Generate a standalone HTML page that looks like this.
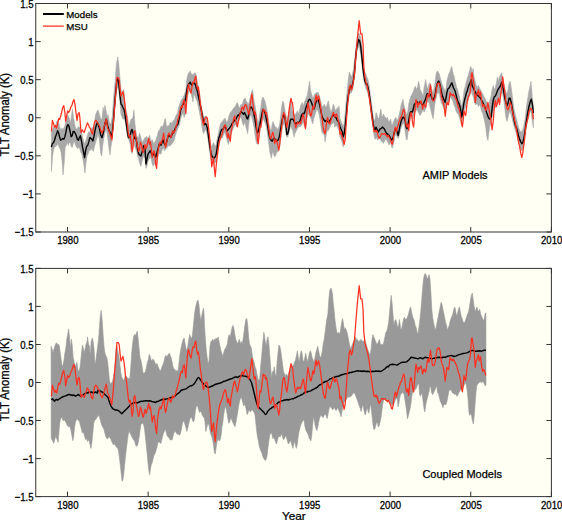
<!DOCTYPE html>
<html><head><meta charset="utf-8"><style>
html,body{margin:0;padding:0;background:#fff;}
svg{display:block;}
.t{font-family:"Liberation Sans",sans-serif;font-size:9.6px;fill:#000;stroke:#000;stroke-width:0.25px;}
.g{font-family:"Liberation Sans",sans-serif;font-size:9.7px;fill:#000;stroke:#000;stroke-width:0.25px;}
.l{font-family:"Liberation Sans",sans-serif;font-size:11px;fill:#000;stroke:#000;stroke-width:0.25px;}
.yl{font-family:"Liberation Sans",sans-serif;font-size:11.3px;fill:#000;stroke:#000;stroke-width:0.25px;}
.y{font-family:"Liberation Sans",sans-serif;font-size:11.8px;fill:#000;stroke:#000;stroke-width:0.25px;}
</style></head><body>
<svg width="562" height="520" viewBox="0 0 562 520">
<rect x="35.75" y="3.5" width="515.65" height="228.5" fill="#fffff4"/>
<polygon points="51.4,131.5 52.4,129.8 53.5,127.2 54.8,126.3 55.9,124.6 56.9,121.1 58.0,120.3 59.0,123.7 60.0,128.1 61.1,129.8 62.1,128.1 63.1,129.8 64.2,127.2 65.2,124.6 66.3,118.5 67.3,115.1 68.3,116.0 69.4,118.5 70.4,122.9 71.5,116.0 72.5,109.0 73.5,117.7 74.6,123.7 75.6,128.1 76.6,128.9 77.7,128.1 78.7,126.3 79.8,128.1 80.8,131.5 81.8,133.3 82.9,138.4 83.9,141.9 84.9,143.6 86.0,140.2 87.0,136.7 88.1,133.3 89.1,131.5 90.1,133.3 91.2,128.9 92.2,127.2 93.3,129.8 94.3,124.6 95.3,116.0 96.4,112.5 97.4,110.8 98.0,109.9 99.4,114.5 100.8,119.1 102.1,119.1 103.1,107.6 104.0,112.2 104.9,105.3 106.3,112.2 107.2,116.8 108.1,114.5 109.5,123.7 110.9,123.7 112.3,116.8 113.7,96.1 115.1,82.3 116.4,63.8 117.8,56.9 118.7,63.8 119.7,75.3 121.0,89.2 122.0,96.1 122.9,91.5 123.8,89.2 124.7,98.4 125.6,107.6 126.6,112.2 127.5,116.8 128.4,123.7 129.3,126.0 130.3,121.4 131.2,119.1 132.1,119.1 133.0,116.8 133.9,109.9 134.9,123.7 135.8,130.6 136.7,135.3 137.6,137.6 138.6,137.6 139.5,132.9 140.9,137.6 142.2,142.2 143.6,139.9 145.0,137.6 146.0,137.4 146.9,136.3 147.8,139.6 148.7,137.4 149.5,135.2 150.4,138.5 151.3,141.9 152.2,139.6 153.1,141.9 154.0,144.1 154.8,141.9 155.7,140.8 156.6,137.4 157.5,135.2 158.4,130.8 159.3,130.8 160.2,128.6 161.0,126.4 161.9,126.4 162.8,126.4 163.7,124.2 164.6,119.7 165.5,118.6 166.4,126.4 167.2,126.4 168.1,125.3 169.0,126.4 169.9,123.1 170.8,121.9 171.7,124.2 172.5,121.9 173.4,120.8 174.3,119.7 175.2,117.5 176.1,115.3 177.0,114.2 177.9,110.9 178.7,107.6 179.6,104.2 180.5,102.0 181.4,99.8 182.3,98.7 183.2,97.6 184.1,95.4 184.9,93.2 185.8,91.0 186.7,79.9 187.6,75.5 188.5,73.3 189.4,72.2 190.2,71.1 191.1,73.3 192.0,74.4 192.9,74.4 194.0,73.8 194.9,72.7 195.8,73.8 196.7,78.3 197.5,82.7 198.4,87.1 199.3,91.5 200.2,98.2 201.1,104.8 202.0,109.2 202.8,113.7 203.7,117.0 204.6,117.0 205.5,115.9 206.4,118.1 207.3,122.5 208.2,129.2 209.0,135.8 209.9,140.2 210.8,144.6 211.7,146.9 212.6,144.6 213.5,142.4 214.4,144.6 215.2,146.9 216.1,144.6 217.0,140.2 217.9,135.8 218.8,131.4 219.7,126.9 220.5,123.6 221.4,122.5 222.3,121.4 223.2,120.3 224.1,119.2 225.0,118.1 225.9,120.3 226.7,122.5 227.6,121.4 228.5,118.1 229.4,114.8 230.3,112.6 231.2,111.5 232.1,110.4 232.9,109.2 233.8,108.1 234.7,107.0 235.6,105.9 236.5,103.7 237.4,102.6 238.2,104.8 239.1,108.1 240.0,107.0 240.9,104.8 242.0,104.4 242.8,102.8 243.6,99.5 244.5,98.7 245.3,97.9 246.1,101.1 246.9,102.0 247.7,103.6 248.5,104.4 249.4,101.1 250.2,97.9 251.0,94.6 251.8,91.3 252.6,89.7 253.4,96.2 254.3,102.8 255.1,106.0 255.9,110.9 256.7,115.8 257.5,120.8 258.3,122.4 259.2,119.1 260.0,112.6 260.8,107.7 261.6,101.1 262.4,97.9 263.2,97.1 264.1,99.5 264.9,101.1 265.7,104.4 266.5,107.7 267.3,112.6 268.1,117.5 269.0,124.0 269.8,127.3 270.6,130.6 271.4,128.9 272.2,124.0 273.0,121.6 273.9,124.0 274.7,125.7 275.5,127.3 276.3,127.3 277.1,128.9 277.9,128.9 278.8,127.3 279.6,124.0 280.4,119.1 281.2,110.9 282.0,104.4 282.8,101.1 283.7,102.8 284.5,107.7 285.3,112.6 286.1,115.8 286.9,119.1 287.8,117.5 288.6,114.2 289.4,107.7 290.2,101.1 291.0,97.9 292.0,111.6 292.5,110.8 293.3,112.4 294.1,114.0 294.9,115.7 295.7,114.0 296.5,112.4 297.4,110.8 298.2,114.0 299.0,112.4 299.8,109.1 300.6,105.8 301.4,104.2 302.3,102.6 303.1,105.8 303.9,104.2 304.7,100.9 305.5,100.1 306.3,97.7 307.2,96.0 308.0,91.1 308.8,86.2 309.6,81.3 310.4,89.5 311.2,92.8 312.1,96.0 312.9,97.7 313.7,96.9 314.5,94.4 315.3,93.6 316.1,92.8 317.0,92.8 317.8,92.0 318.6,93.6 319.4,96.0 320.2,99.3 321.0,102.6 321.9,105.8 322.7,106.7 323.5,105.8 324.3,104.2 325.1,105.8 325.9,107.5 326.8,105.8 327.6,102.6 328.4,100.9 329.2,105.8 330.0,109.1 330.8,112.4 331.7,110.8 332.5,107.5 333.3,104.2 334.1,105.8 334.9,109.1 335.8,110.8 336.6,109.1 337.4,107.5 338.2,109.1 339.0,105.8 340.0,118.6 341.0,121.2 342.1,123.8 343.1,126.4 344.1,123.8 345.2,113.4 346.2,100.5 347.3,90.1 348.3,79.8 349.3,72.0 350.4,74.6 351.4,77.2 352.4,74.6 353.5,69.4 354.5,61.6 355.5,51.3 356.6,40.9 357.6,35.7 358.7,33.1 359.7,34.4 360.7,38.3 361.8,46.1 362.8,56.5 363.8,66.8 364.9,72.0 365.9,74.6 366.9,77.2 368.0,79.8 369.0,84.9 370.1,92.7 371.1,100.5 372.1,108.3 373.2,116.0 374.2,121.2 375.2,118.6 376.0,112.4 376.8,114.0 377.6,117.3 378.5,118.9 379.3,117.3 380.1,112.4 380.9,109.1 381.7,115.7 382.5,117.3 383.4,114.0 384.2,115.7 385.0,117.3 385.8,117.3 386.6,118.9 387.4,117.3 388.3,120.6 389.1,122.2 389.9,120.6 390.7,118.9 391.5,123.8 392.3,125.5 393.2,122.2 394.0,120.6 394.8,118.9 395.6,117.3 396.4,118.9 397.2,120.6 398.1,118.9 398.9,115.7 399.7,112.4 400.5,109.1 401.3,104.2 402.1,102.6 403.0,99.3 403.8,104.2 404.6,107.5 405.4,110.8 406.2,114.0 407.0,114.0 407.9,110.8 408.7,104.2 409.5,100.9 410.3,97.7 411.1,96.0 411.9,94.4 412.8,92.8 413.6,91.1 414.4,87.9 415.2,86.2 416.0,87.9 416.8,89.5 417.7,86.2 418.5,81.3 419.3,84.6 420.1,89.5 420.9,91.1 421.8,92.8 422.6,94.4 423.4,96.0 424.0,87.7 424.8,84.4 425.6,79.5 426.5,84.4 427.3,87.7 428.1,88.5 428.9,84.4 429.7,82.8 430.5,83.6 431.4,87.7 432.2,90.9 433.0,92.6 433.8,89.3 434.6,86.0 435.4,79.5 436.3,73.0 437.1,71.3 437.9,71.3 438.7,73.0 439.5,74.6 440.3,77.9 441.2,81.1 442.0,84.4 442.8,86.0 443.6,87.7 444.4,89.3 445.2,92.6 446.1,87.7 446.9,81.1 447.7,77.9 448.5,74.6 449.3,73.0 450.1,71.3 451.0,68.1 451.8,66.4 452.6,71.3 453.4,74.6 454.2,76.2 455.0,81.1 455.9,84.4 456.7,87.7 457.5,89.3 458.3,92.6 459.1,95.8 459.9,99.1 460.8,102.4 461.6,105.7 462.4,104.0 463.2,97.5 464.0,90.9 464.8,87.7 465.7,84.4 466.5,81.1 467.3,77.9 468.1,76.2 468.9,73.0 469.8,69.7 470.6,66.4 471.4,68.1 472.0,72.7 473.1,68.5 474.1,76.9 475.2,81.2 476.2,85.4 477.3,87.5 478.4,85.4 479.4,87.5 480.5,89.7 481.5,91.8 482.6,93.9 483.7,96.0 484.7,98.1 485.8,100.3 486.8,102.4 487.9,106.6 488.9,104.5 490.0,100.3 491.1,96.0 492.1,89.7 493.2,85.4 494.2,89.7 495.3,87.5 496.4,83.3 497.4,76.9 498.5,81.2 499.5,76.9 500.6,74.8 501.7,72.7 502.7,79.1 503.8,83.3 504.8,87.5 505.9,91.8 507.0,93.9 508.0,89.7 509.1,83.3 510.1,81.2 511.2,87.5 512.3,96.0 513.3,104.5 514.4,110.8 515.4,115.1 516.5,119.3 517.6,123.6 518.6,127.8 519.7,129.9 520.7,132.0 521.8,132.0 522.8,129.9 523.9,125.7 525.0,119.3 526.0,110.8 527.1,102.4 528.1,96.0 529.2,89.7 530.3,85.4 530.9,81.2 531.7,89.7 532.6,100.3 533.4,106.6 533.4,127.8 532.4,121.4 531.3,113.0 530.3,110.8 529.2,115.1 528.1,119.3 527.1,123.6 526.0,129.9 525.0,138.4 523.9,144.7 522.8,149.0 521.8,151.1 520.7,149.0 519.7,144.7 518.6,142.6 517.6,138.4 516.5,134.2 515.4,129.9 514.4,127.8 513.3,123.6 512.3,119.3 511.2,115.1 510.1,110.8 509.1,113.0 508.0,117.2 507.0,121.4 505.9,117.2 504.8,108.7 503.8,100.3 502.7,93.9 501.7,91.8 500.6,96.0 499.5,98.1 498.5,102.4 497.4,104.5 496.4,106.6 495.3,107.7 494.2,108.7 493.2,110.8 492.1,117.2 491.1,123.6 490.0,125.7 488.9,132.0 487.9,140.5 486.8,136.3 485.8,127.8 484.7,121.4 483.7,117.2 482.6,113.0 481.5,110.8 480.5,106.6 479.4,104.5 478.4,106.6 477.3,103.4 476.2,104.5 475.2,104.5 474.1,100.3 473.1,96.0 472.0,93.9 471.4,90.9 470.6,92.6 469.8,94.2 468.9,97.5 468.1,100.8 467.3,102.4 466.5,104.0 465.7,107.3 464.8,108.9 464.0,110.6 463.2,115.5 462.4,122.0 461.6,125.3 460.8,122.0 459.9,118.7 459.1,117.1 458.3,113.8 457.5,113.8 456.7,112.2 455.9,110.6 455.0,107.3 454.2,105.7 453.4,102.4 452.6,100.8 451.8,99.1 451.0,97.5 450.1,97.5 449.3,100.8 448.5,102.4 447.7,104.0 446.9,104.0 446.1,107.3 445.2,110.6 444.4,108.9 443.6,107.3 442.8,105.7 442.0,104.0 441.2,102.4 440.3,99.1 439.5,94.2 438.7,92.6 437.9,92.6 437.1,94.2 436.3,97.5 435.4,100.8 434.6,105.7 433.8,113.8 433.0,118.7 432.2,115.5 431.4,112.2 430.5,108.9 429.7,105.7 428.9,102.4 428.1,100.8 427.3,102.4 426.5,104.0 425.6,108.9 424.8,110.6 424.0,112.2 423.4,109.1 422.6,110.8 421.8,112.4 420.9,114.0 420.1,115.7 419.3,114.0 418.5,112.4 417.7,110.8 416.8,109.1 416.0,110.8 415.2,112.4 414.4,114.0 413.6,117.3 412.8,118.9 411.9,117.3 411.1,115.7 410.3,117.3 409.5,122.2 408.7,128.7 407.9,133.6 407.0,140.2 406.2,138.5 405.4,133.6 404.6,127.1 403.8,122.2 403.0,123.8 402.1,125.5 401.3,127.1 400.5,130.4 399.7,133.6 398.9,136.9 398.1,138.5 397.2,136.9 396.4,135.3 395.6,133.6 394.8,136.9 394.0,141.8 393.2,145.1 392.3,148.3 391.5,146.7 390.7,141.8 389.9,143.4 389.1,145.1 388.3,143.4 387.4,141.8 386.6,140.2 385.8,138.5 385.0,140.2 384.2,141.8 383.4,143.4 382.5,141.8 381.7,141.8 380.9,140.2 380.1,138.5 379.3,136.9 378.5,138.5 377.6,140.2 376.8,138.5 376.0,136.9 375.2,139.4 374.2,136.8 373.2,129.0 372.1,121.2 371.1,113.4 370.1,105.7 369.0,97.9 368.0,94.0 366.9,90.1 365.9,88.8 364.9,84.9 363.8,79.8 362.8,72.0 361.8,61.6 360.7,53.9 359.7,48.7 358.7,46.1 357.6,48.7 356.6,53.9 355.5,64.2 354.5,77.2 353.5,84.9 352.4,90.1 351.4,92.7 350.4,92.7 349.3,95.3 348.3,100.5 347.3,108.3 346.2,118.6 345.2,131.6 344.1,141.9 343.1,147.1 342.1,141.9 341.0,139.4 340.0,136.8 339.0,130.4 338.2,128.7 337.4,127.1 336.6,125.5 335.8,125.5 334.9,127.1 334.1,123.8 333.3,122.2 332.5,123.8 331.7,123.8 330.8,125.5 330.0,127.1 329.2,128.7 328.4,130.4 327.6,130.4 326.8,132.0 325.9,136.9 325.1,141.8 324.3,135.3 323.5,133.6 322.7,133.6 321.9,132.0 321.0,127.1 320.2,120.6 319.4,115.7 318.6,112.4 317.8,110.8 317.0,109.1 316.1,110.8 315.3,114.0 314.5,115.7 313.7,118.9 312.9,123.8 312.1,122.2 311.2,118.9 310.4,117.3 309.6,115.7 308.8,114.0 308.0,114.0 307.2,117.3 306.3,123.8 305.5,128.7 304.7,127.1 303.9,123.8 303.1,122.2 302.3,123.8 301.4,125.5 300.6,126.3 299.8,127.1 299.0,126.3 298.2,127.1 297.4,128.7 296.5,130.4 295.7,132.0 294.9,133.6 294.1,136.9 293.3,133.6 292.5,128.7 292.0,129.5 291.0,125.7 290.2,127.3 289.4,130.6 288.6,133.8 287.8,137.1 286.9,137.1 286.1,133.8 285.3,127.3 284.5,124.0 283.7,124.0 282.8,125.7 282.0,130.6 281.2,137.1 280.4,142.0 279.6,146.9 278.8,150.2 277.9,151.8 277.1,151.8 276.3,153.4 275.5,155.9 274.7,156.7 273.9,155.1 273.0,151.8 272.2,153.4 271.4,158.3 270.6,155.1 269.8,151.8 269.0,145.3 268.1,138.7 267.3,132.2 266.5,127.3 265.7,124.0 264.9,122.4 264.1,120.8 263.2,118.3 262.4,119.1 261.6,122.4 260.8,127.3 260.0,132.2 259.2,137.1 258.3,142.0 257.5,144.4 256.7,143.6 255.9,140.4 255.1,135.5 254.3,128.9 253.4,124.0 252.6,120.8 251.8,117.5 251.0,114.2 250.2,115.8 249.4,119.1 248.5,125.7 247.7,133.8 246.9,130.6 246.1,127.3 245.3,124.0 244.5,122.4 243.6,125.7 242.8,124.0 242.0,120.8 240.9,117.0 240.0,118.1 239.1,120.3 238.2,122.5 237.4,124.7 236.5,126.9 235.6,124.7 234.7,124.7 233.8,126.9 232.9,129.2 232.1,131.4 231.2,133.6 230.3,135.8 229.4,140.2 228.5,144.6 227.6,142.4 226.7,138.0 225.9,135.8 225.0,132.5 224.1,133.6 223.2,135.8 222.3,138.0 221.4,138.0 220.5,139.1 219.7,142.4 218.8,146.9 217.9,151.3 217.0,157.9 216.1,162.3 215.2,162.3 214.4,162.3 213.5,164.6 212.6,164.6 211.7,162.3 210.8,157.9 209.9,153.5 209.0,146.9 208.2,140.2 207.3,135.8 206.4,131.4 205.5,129.2 204.6,131.4 203.7,133.6 202.8,131.4 202.0,126.9 201.1,120.3 200.2,115.9 199.3,111.5 198.4,107.0 197.5,102.6 196.7,100.4 195.8,98.2 194.9,96.0 194.0,93.8 192.9,102.0 192.0,97.6 191.1,93.2 190.2,89.9 189.4,91.0 188.5,93.2 187.6,95.4 186.7,102.0 185.8,114.2 184.9,115.3 184.1,117.5 183.2,113.1 182.3,114.2 181.4,116.4 180.5,119.7 179.6,124.2 178.7,126.4 177.9,128.6 177.0,130.8 176.1,133.0 175.2,136.3 174.3,139.6 173.4,141.9 172.5,143.0 171.7,144.1 170.8,145.2 169.9,146.3 169.0,145.2 168.1,146.3 167.2,147.4 166.4,148.5 165.5,149.6 164.6,150.7 163.7,148.5 162.8,148.5 161.9,150.7 161.0,154.0 160.2,154.0 159.3,152.9 158.4,155.1 157.5,159.6 156.6,164.0 155.7,166.2 154.8,164.0 154.0,164.0 153.1,166.2 152.2,164.0 151.3,159.6 150.4,157.3 149.5,158.5 148.7,159.6 147.8,161.8 146.9,166.2 146.0,168.4 145.0,158.3 143.6,156.0 142.2,160.6 140.9,166.4 139.5,162.9 138.6,158.3 137.6,156.0 136.7,151.4 135.8,149.1 134.9,146.8 133.9,142.2 133.0,146.8 132.1,153.7 131.2,151.4 130.3,144.5 129.3,141.0 128.4,138.7 127.5,135.3 126.6,130.6 125.6,123.7 124.7,119.1 123.8,119.1 122.9,119.1 122.0,116.8 121.0,114.5 120.1,103.0 118.7,89.2 117.4,86.9 116.0,93.8 114.6,109.9 113.2,128.3 111.8,142.2 110.9,146.8 110.0,154.8 109.1,149.1 107.7,137.6 106.3,128.3 104.9,132.9 103.5,139.9 102.6,146.8 101.7,156.0 100.8,153.7 99.4,139.9 98.0,132.9 97.4,136.7 96.4,140.2 95.3,143.6 94.3,147.1 93.3,151.4 92.2,149.7 91.2,148.8 90.1,150.6 89.1,150.6 88.1,154.0 87.0,155.7 86.0,162.7 84.9,173.0 83.9,164.4 82.9,159.2 81.8,154.0 80.8,152.3 79.8,148.8 78.7,147.1 77.7,148.8 76.6,147.1 75.6,145.4 74.6,141.9 73.5,141.9 72.5,147.1 71.5,147.1 70.4,143.6 69.4,141.9 68.3,145.4 67.3,141.9 66.3,145.4 65.2,147.1 64.2,162.7 63.1,174.8 62.1,160.9 61.1,152.3 60.0,148.8 59.0,147.1 58.0,143.6 56.9,145.4 55.9,146.2 54.8,147.1 53.8,148.8 52.8,154.0 52.1,162.7 51.4,171.3" fill="#a8a8a8" stroke="#a8a8a8" stroke-width="0.6"/>
<polyline points="51.4,147.1 52.4,143.6 53.5,142.8 54.5,140.2 55.5,136.7 56.6,134.1 57.6,130.7 58.7,133.3 59.7,137.6 60.7,140.2 61.8,139.3 62.8,138.4 63.8,139.3 64.9,136.7 65.9,132.4 67.0,126.3 68.0,124.6 69.0,126.3 70.1,131.5 71.1,136.7 72.1,135.8 73.2,131.5 74.2,131.5 75.3,133.3 76.3,135.8 77.3,139.3 78.4,140.2 79.4,137.6 80.4,135.8 81.5,141.0 82.5,147.1 83.6,152.3 84.6,157.5 85.6,150.6 86.7,146.2 87.7,145.4 88.8,141.9 89.8,137.6 90.8,138.4 91.9,139.3 92.9,141.0 93.9,136.7 95.0,130.7 96.0,126.3 97.1,122.9 98.0,123.7 99.4,128.3 100.8,135.3 102.1,137.6 103.5,131.8 104.9,123.7 106.3,119.1 107.7,126.0 109.1,130.6 110.4,132.9 111.8,137.6 113.2,123.7 114.6,105.3 116.0,89.2 116.9,80.0 117.8,78.8 118.7,82.3 120.1,96.1 121.0,104.1 122.0,105.3 122.9,107.6 123.8,108.8 124.7,112.2 125.6,119.1 126.6,126.0 127.5,132.9 128.4,137.6 129.3,137.6 130.3,135.3 131.2,130.6 132.1,129.5 133.0,132.9 133.9,136.4 134.9,138.7 135.8,137.6 136.7,142.2 137.6,149.1 138.6,153.7 139.5,154.8 140.9,156.0 142.2,151.4 143.6,145.6 145.0,149.1 146.0,164.0 146.9,159.6 147.8,155.1 148.7,152.9 149.5,151.8 150.4,150.7 151.3,152.9 152.2,155.1 153.1,155.1 154.0,152.9 154.8,155.1 155.7,157.3 156.6,154.0 157.5,150.7 158.4,147.4 159.3,144.1 160.2,143.0 161.0,145.2 161.9,143.0 162.8,139.6 163.7,141.9 164.6,144.1 165.5,145.2 166.4,143.0 167.2,139.6 168.1,136.3 169.0,135.2 169.9,136.3 170.8,137.4 171.7,135.2 172.5,133.0 173.4,133.0 174.3,130.8 175.2,128.6 176.1,126.4 177.0,125.3 177.9,124.2 178.7,120.8 179.6,116.4 180.5,110.9 181.4,107.6 182.3,105.4 183.2,104.2 184.1,103.1 184.9,100.9 185.8,97.6 186.7,91.0 187.6,86.5 188.5,84.3 189.4,83.2 190.2,82.1 191.1,84.3 192.0,85.4 192.9,83.2 194.0,82.7 194.9,83.8 195.8,86.0 196.7,89.3 197.5,91.5 198.4,96.0 199.3,100.4 200.2,104.8 201.1,109.2 202.0,113.7 202.8,118.1 203.7,122.5 204.6,124.7 205.5,123.6 206.4,124.7 207.3,128.1 208.2,133.6 209.0,140.2 209.9,146.9 210.8,152.4 211.7,155.7 212.6,156.8 213.5,157.9 214.4,157.9 215.2,156.8 216.1,154.6 217.0,149.1 217.9,142.4 218.8,138.0 219.7,135.8 220.5,132.5 221.4,130.3 222.3,129.2 223.2,129.2 224.1,126.9 225.0,125.8 225.9,128.1 226.7,131.4 227.6,130.3 228.5,129.2 229.4,128.1 230.3,126.9 231.2,125.8 232.1,123.6 232.9,122.5 233.8,121.4 234.7,120.3 235.6,119.2 236.5,118.1 237.4,115.9 238.2,114.8 239.1,115.9 240.0,113.7 240.9,111.5 242.0,112.6 242.8,113.4 243.6,114.2 244.5,112.6 245.3,114.2 246.1,115.8 246.9,118.3 247.7,119.1 248.5,115.8 249.4,110.9 250.2,107.7 251.0,106.9 251.8,107.7 252.6,109.3 253.4,111.8 254.3,115.8 255.1,119.9 255.9,125.7 256.7,130.6 257.5,133.0 258.3,131.4 259.2,127.3 260.0,124.0 260.8,119.9 261.6,115.8 262.4,111.8 263.2,109.3 264.1,110.9 264.9,112.6 265.7,115.8 266.5,119.9 267.3,124.0 268.1,128.9 269.0,134.6 269.8,137.9 270.6,139.5 271.4,140.4 272.2,141.2 273.0,139.5 273.9,137.9 274.7,138.7 275.5,140.4 276.3,141.2 277.1,140.4 277.9,140.4 278.8,138.7 279.6,135.5 280.4,130.6 281.2,125.7 282.0,120.8 282.8,117.5 283.7,115.0 284.5,115.8 285.3,119.9 286.1,127.3 286.9,134.6 287.8,133.8 288.6,130.6 289.4,125.7 290.2,120.8 291.0,119.1 292.0,119.4 292.5,118.9 293.3,119.7 294.1,121.4 294.9,123.0 295.7,123.8 296.5,123.0 297.4,122.2 298.2,123.0 299.0,122.2 299.8,121.4 300.6,118.9 301.4,115.7 302.3,114.0 303.1,113.2 303.9,114.0 304.7,112.4 305.5,109.1 306.3,106.7 307.2,104.2 308.0,101.8 308.8,100.1 309.6,99.3 310.4,100.1 311.2,101.8 312.1,104.2 312.9,107.5 313.7,109.1 314.5,107.5 315.3,104.2 316.1,101.8 317.0,100.1 317.8,99.3 318.6,100.9 319.4,104.2 320.2,107.5 321.0,111.6 321.9,115.7 322.7,118.1 323.5,118.9 324.3,120.6 325.1,121.4 325.9,120.6 326.8,120.6 327.6,121.4 328.4,122.2 329.2,121.4 330.0,120.6 330.8,118.9 331.7,117.3 332.5,115.7 333.3,114.8 334.1,115.7 334.9,117.3 335.8,117.3 336.6,118.9 337.4,120.6 338.2,121.4 339.0,123.0 340.0,126.4 341.0,129.0 342.1,131.6 343.1,136.8 344.1,134.2 345.2,126.4 346.2,116.0 347.3,103.1 348.3,95.3 349.3,90.1 350.4,86.2 351.4,87.5 352.4,84.9 353.5,79.8 354.5,72.0 355.5,59.0 356.6,48.7 357.6,43.5 358.7,39.6 359.7,40.9 360.7,46.1 361.8,56.5 362.8,66.8 363.8,74.6 364.9,81.1 365.9,83.7 366.9,83.7 368.0,87.5 369.0,92.7 370.1,100.5 371.1,108.3 372.1,116.0 373.2,123.8 374.2,129.0 375.2,130.3 376.0,127.1 376.8,128.7 377.6,130.4 378.5,132.0 379.3,130.4 380.1,128.7 380.9,128.7 381.7,127.9 382.5,127.1 383.4,127.9 384.2,128.7 385.0,130.4 385.8,132.0 386.6,133.6 387.4,133.6 388.3,135.3 389.1,135.3 389.9,136.9 390.7,138.5 391.5,140.2 392.3,139.3 393.2,136.9 394.0,133.6 394.8,130.4 395.6,128.7 396.4,130.4 397.2,132.0 398.1,135.3 398.9,132.0 399.7,127.1 400.5,123.8 401.3,120.6 402.1,118.9 403.0,117.3 403.8,117.3 404.6,118.9 405.4,122.2 406.2,127.1 407.0,128.7 407.9,125.5 408.7,120.6 409.5,115.7 410.3,112.4 411.1,111.6 411.9,112.4 412.8,110.8 413.6,107.5 414.4,104.2 415.2,103.4 416.0,102.6 416.8,101.8 417.7,102.6 418.5,103.4 419.3,102.6 420.1,101.8 420.9,102.6 421.8,104.2 422.6,105.0 423.4,104.2 424.0,102.4 424.8,100.8 425.6,99.1 426.5,95.8 427.3,93.4 428.1,94.2 428.9,95.8 429.7,95.0 430.5,94.2 431.4,96.7 432.2,99.1 433.0,99.9 433.8,99.1 434.6,96.7 435.4,93.4 436.3,87.7 437.1,84.4 437.9,82.0 438.7,81.1 439.5,82.8 440.3,86.0 441.2,90.9 442.0,94.2 442.8,96.7 443.6,99.1 444.4,100.8 445.2,102.4 446.1,97.5 446.9,92.6 447.7,89.3 448.5,88.5 449.3,87.7 450.1,86.0 451.0,84.4 451.8,82.8 452.6,85.2 453.4,87.7 454.2,89.3 455.0,90.9 455.9,94.2 456.7,97.5 457.5,100.8 458.3,102.4 459.1,104.0 459.9,106.5 460.8,110.6 461.6,117.1 462.4,113.8 463.2,107.3 464.0,102.4 464.8,99.1 465.7,95.8 466.5,92.6 467.3,90.9 468.1,87.7 468.9,85.2 469.8,83.6 470.6,81.1 471.4,79.5 472.0,85.4 473.1,87.5 474.1,89.7 475.2,91.8 476.2,93.9 477.3,95.0 478.4,96.0 479.4,97.1 480.5,98.1 481.5,100.3 482.6,102.4 483.7,104.5 484.7,106.6 485.8,109.8 486.8,113.0 487.9,116.1 488.9,118.3 490.0,119.3 491.1,117.2 492.1,108.7 493.2,100.3 494.2,97.1 495.3,96.0 496.4,93.9 497.4,90.7 498.5,88.6 499.5,87.5 500.6,85.4 501.7,82.2 502.7,85.4 503.8,91.8 504.8,98.1 505.9,102.4 507.0,105.6 508.0,103.4 509.1,98.1 510.1,98.1 511.2,102.4 512.3,108.7 513.3,115.1 514.4,121.4 515.4,125.7 516.5,127.8 517.6,132.0 518.6,136.3 519.7,139.4 520.7,141.6 521.8,143.7 522.8,142.6 523.9,138.4 525.0,132.0 526.0,123.6 527.1,117.2 528.1,110.8 529.2,105.6 530.3,101.3 531.3,99.2 532.4,104.5 533.4,113.0" fill="none" stroke="#000" stroke-width="1.4" stroke-linejoin="round"/>
<polyline points="51.4,131.5 52.4,120.3 53.5,123.7 54.5,127.2 55.5,125.5 56.6,128.1 57.6,123.7 58.7,118.5 59.7,119.4 60.7,116.0 61.8,111.6 62.8,107.3 63.8,105.6 64.9,112.5 65.6,121.1 66.6,116.0 67.6,110.8 68.7,112.5 69.7,110.8 70.8,107.3 71.8,105.6 72.8,102.1 73.9,99.5 74.9,103.8 76.0,112.5 77.0,120.3 78.0,114.2 79.1,112.5 79.8,116.8 80.4,124.6 81.1,132.4 82.2,129.8 83.2,131.5 84.3,132.4 85.3,128.9 86.3,126.3 87.4,122.9 88.4,124.6 89.4,127.2 90.5,128.9 91.5,132.4 92.6,134.1 93.6,127.2 94.6,122.0 95.7,120.3 96.7,121.1 98.0,123.7 99.4,126.0 100.8,130.6 102.1,132.9 103.5,129.5 104.9,123.7 106.3,119.1 107.7,128.3 109.1,130.6 110.4,135.3 111.8,139.9 113.2,126.0 114.6,107.6 116.0,91.5 116.9,77.6 118.3,77.6 119.2,80.0 120.1,89.2 121.0,96.1 122.0,93.8 122.9,91.5 123.8,96.1 124.7,103.0 125.6,112.2 126.6,116.8 127.5,126.0 128.4,134.1 129.3,137.6 130.3,135.3 131.2,142.2 132.1,151.4 133.0,146.8 133.9,132.9 134.9,130.6 135.8,137.6 136.7,142.2 137.6,146.8 138.6,151.4 139.5,149.1 140.4,142.2 141.3,144.5 142.2,149.1 143.2,152.5 144.1,149.1 145.0,144.5 146.0,148.5 146.9,146.3 147.8,141.9 148.7,138.5 149.5,144.1 150.4,141.9 151.3,148.5 152.2,157.3 153.1,152.9 154.0,150.7 154.8,155.1 155.7,164.0 156.6,168.4 157.5,155.1 158.4,148.5 159.3,144.1 160.2,141.9 161.0,144.1 161.9,140.8 162.8,137.4 163.7,133.0 164.6,141.9 165.5,147.4 166.4,144.1 167.2,139.6 168.1,135.2 169.0,133.0 169.9,135.2 170.8,137.4 171.7,135.2 172.5,130.8 173.4,133.0 174.3,131.9 175.2,129.7 176.1,126.4 177.0,124.2 177.9,119.7 178.7,117.5 179.6,113.1 180.5,108.7 181.4,106.5 182.3,107.6 183.2,102.0 184.1,99.8 184.9,104.2 185.8,113.1 186.7,99.8 187.6,88.8 188.5,84.3 189.4,88.8 190.2,91.0 191.1,93.2 192.0,86.5 192.9,82.1 194.0,82.7 194.9,78.3 195.8,76.1 196.7,84.9 197.5,89.3 198.4,87.1 199.3,93.8 200.2,102.6 201.1,109.2 202.0,115.9 202.8,122.5 203.7,124.7 204.6,119.2 205.5,118.1 206.4,117.0 207.3,118.1 208.2,124.7 209.0,131.4 209.9,140.2 210.8,153.5 211.7,166.8 212.6,162.3 213.5,157.9 214.4,169.0 215.2,176.7 216.1,166.8 217.0,157.9 217.9,151.3 218.8,144.6 219.7,140.2 220.5,138.0 221.4,135.8 222.3,133.6 223.2,129.2 224.1,126.9 225.0,124.7 225.9,126.9 226.7,131.4 227.6,138.0 228.5,133.6 229.4,138.0 230.3,141.3 231.2,131.4 232.1,126.9 232.9,122.5 233.8,118.1 234.7,115.9 235.6,120.3 236.5,122.5 237.4,126.9 238.2,122.5 239.1,118.1 240.0,113.7 240.9,111.5 242.0,107.7 242.8,106.9 243.6,110.1 244.5,106.0 245.3,104.4 246.1,105.2 246.9,107.7 247.7,110.1 248.5,114.2 249.4,112.6 250.2,104.4 251.0,99.5 251.8,93.8 252.6,99.5 253.4,107.7 254.3,114.2 255.1,111.8 255.9,115.8 256.7,127.3 257.5,140.4 258.3,143.6 259.2,133.8 260.0,125.7 260.8,127.3 261.6,122.4 262.4,115.8 263.2,109.3 264.1,110.9 264.9,110.1 265.7,114.2 266.5,112.6 267.3,117.5 268.1,124.0 269.0,130.6 269.8,137.1 270.6,138.7 271.4,137.1 272.2,133.8 273.0,132.2 273.9,137.1 274.7,143.6 275.5,140.4 276.3,139.5 277.1,142.0 277.9,145.3 278.8,150.2 279.6,145.3 280.4,137.1 281.2,130.6 282.0,124.0 282.8,115.8 283.7,112.6 284.5,114.2 285.3,119.1 286.1,124.0 286.9,127.3 287.8,120.8 288.6,114.2 289.4,107.7 290.2,102.8 291.0,98.7 292.0,102.6 292.5,102.6 293.3,110.8 294.1,117.3 294.9,123.8 295.7,127.9 296.5,125.5 297.4,122.2 298.2,123.8 299.0,123.0 299.8,122.2 300.6,123.8 301.4,120.6 302.3,117.3 303.1,114.0 303.9,117.3 304.7,123.8 305.5,128.7 306.3,118.9 307.2,109.1 308.0,102.6 308.8,107.5 309.6,110.8 310.4,115.7 311.2,115.7 312.1,110.8 312.9,105.8 313.7,109.1 314.5,105.8 315.3,99.3 316.1,95.2 317.0,100.9 317.8,97.7 318.6,96.0 319.4,99.3 320.2,104.2 321.0,110.8 321.9,117.3 322.7,123.8 323.5,129.5 324.3,132.0 325.1,133.6 325.9,128.7 326.8,120.6 327.6,117.3 328.4,120.6 329.2,123.8 330.0,123.8 330.8,120.6 331.7,117.3 332.5,115.7 333.3,112.4 334.1,114.0 334.9,117.3 335.8,114.8 336.6,114.0 337.4,117.3 338.2,120.6 339.0,123.8 340.0,134.2 341.0,131.6 342.1,136.8 343.1,139.4 344.1,144.5 345.2,139.4 346.2,123.8 347.3,108.3 348.3,97.9 349.3,87.5 350.4,84.9 351.4,90.1 352.4,87.5 353.5,79.8 354.5,74.6 355.5,61.6 356.6,47.4 357.6,35.7 358.7,25.4 359.2,20.7 360.2,30.0 360.7,33.9 362.0,33.9 363.1,44.8 363.8,66.8 364.9,77.2 365.9,82.4 366.9,84.9 368.0,90.1 369.0,95.3 370.1,103.1 371.1,110.9 372.1,118.6 373.2,126.4 374.2,131.6 375.2,130.3 376.0,132.0 376.8,130.4 377.6,133.6 378.5,136.9 379.3,138.5 380.1,136.9 380.9,135.3 381.7,133.6 382.5,133.6 383.4,134.4 384.2,133.6 385.0,133.6 385.8,135.3 386.6,135.3 387.4,136.9 388.3,135.3 389.1,136.9 389.9,138.5 390.7,140.2 391.5,143.4 392.3,144.2 393.2,140.2 394.0,133.6 394.8,128.7 395.6,127.1 396.4,132.0 397.2,128.7 398.1,125.5 398.9,122.2 399.7,120.6 400.5,117.3 401.3,117.3 402.1,114.0 403.0,110.8 403.8,109.1 404.6,112.4 405.4,120.6 406.2,125.5 407.0,127.1 407.9,123.8 408.7,130.4 409.5,122.2 410.3,114.0 411.1,112.4 411.9,117.3 412.8,123.8 413.6,127.1 414.4,117.3 415.2,107.5 416.0,99.3 416.8,102.6 417.7,107.5 418.5,102.6 419.3,104.2 420.1,102.6 420.9,100.9 421.8,104.2 422.6,109.1 423.4,105.8 424.0,104.0 424.8,105.7 425.6,107.3 426.5,102.4 427.3,95.8 428.1,94.2 428.9,97.5 429.7,90.9 430.5,85.2 431.4,92.6 432.2,99.1 433.0,100.8 433.8,100.8 434.6,99.1 435.4,95.8 436.3,89.3 437.1,84.4 437.9,83.6 438.7,82.8 439.5,83.6 440.3,87.7 441.2,95.8 442.0,99.1 442.8,100.8 443.6,104.0 444.4,108.9 445.2,116.3 446.1,108.9 446.9,102.4 447.7,104.0 448.5,104.8 449.3,99.1 450.1,92.6 451.0,95.0 451.8,94.2 452.6,95.8 453.4,94.2 454.2,95.8 455.0,97.5 455.9,99.1 456.7,100.8 457.5,104.0 458.3,107.3 459.1,108.9 459.9,112.2 460.8,117.1 461.6,123.6 462.4,126.9 463.2,120.4 464.0,110.6 464.8,113.8 465.7,115.5 466.5,108.9 467.3,100.8 468.1,97.5 468.9,95.8 469.8,94.2 470.6,87.7 471.4,74.6 472.0,72.7 473.1,79.1 474.1,85.4 475.2,102.4 476.2,96.0 477.3,93.9 478.4,89.7 479.4,96.0 480.5,91.8 481.5,100.3 482.6,106.6 483.7,104.5 484.7,106.6 485.8,110.8 486.8,108.7 487.9,102.4 488.9,108.7 490.0,115.1 491.1,121.4 492.1,129.9 493.2,121.4 494.2,108.7 495.3,100.3 496.4,106.6 497.4,102.4 498.5,98.1 499.5,104.5 500.6,96.0 501.7,87.5 502.7,76.9 503.8,85.4 504.8,91.8 505.9,102.4 507.0,108.7 508.0,109.8 509.1,106.6 510.1,102.4 511.2,104.5 512.3,110.8 513.3,115.1 514.4,119.3 515.4,123.6 516.5,129.9 517.6,136.3 518.6,142.6 519.7,146.9 520.7,153.2 521.8,157.5 522.8,153.2 523.9,144.7 525.0,134.2 526.0,125.7 527.1,121.4 528.1,117.2 529.2,110.8 530.3,108.7 531.3,108.7 532.4,110.8 533.4,119.3" fill="none" stroke="#ff3020" stroke-width="1.25" stroke-linejoin="round"/>
<rect x="35.75" y="3.5" width="515.65" height="228.5" fill="none" stroke="#333" stroke-width="1"/>
<path d="M67.50,232.0v-5M67.50,3.5v5M148.15,232.0v-5M148.15,3.5v5M228.80,232.0v-5M228.80,3.5v5M309.45,232.0v-5M309.45,3.5v5M390.10,232.0v-5M390.10,3.5v5M470.75,232.0v-5M470.75,3.5v5M551.40,232.0v-5M551.40,3.5v5M35.75,3.50h5M551.4,3.50h-5M35.75,41.58h5M551.4,41.58h-5M35.75,79.67h5M551.4,79.67h-5M35.75,117.75h5M551.4,117.75h-5M35.75,155.83h5M551.4,155.83h-5M35.75,193.92h5M551.4,193.92h-5M35.75,232.00h5M551.4,232.00h-5" stroke="#333" stroke-width="1" fill="none"/>
<text transform="translate(33.6,3.60) scale(1,1.2)" y="3.44" text-anchor="end" class="t">1.5</text>
<text transform="translate(33.6,41.68) scale(1,1.2)" y="3.44" text-anchor="end" class="t">1</text>
<text transform="translate(33.6,79.77) scale(1,1.2)" y="3.44" text-anchor="end" class="t">0.5</text>
<text transform="translate(33.6,117.85) scale(1,1.2)" y="3.44" text-anchor="end" class="t">0</text>
<text transform="translate(33.6,155.93) scale(1,1.2)" y="3.44" text-anchor="end" class="t">−0.5</text>
<text transform="translate(33.6,194.02) scale(1,1.2)" y="3.44" text-anchor="end" class="t">−1</text>
<text transform="translate(33.6,232.10) scale(1,1.2)" y="3.44" text-anchor="end" class="t">−1.5</text>
<text transform="translate(67.80,240.00) scale(1,1.2)" y="3.44" text-anchor="middle" class="t">1980</text>
<text transform="translate(148.45,240.00) scale(1,1.2)" y="3.44" text-anchor="middle" class="t">1985</text>
<text transform="translate(229.10,240.00) scale(1,1.2)" y="3.44" text-anchor="middle" class="t">1990</text>
<text transform="translate(309.75,240.00) scale(1,1.2)" y="3.44" text-anchor="middle" class="t">1995</text>
<text transform="translate(390.40,240.00) scale(1,1.2)" y="3.44" text-anchor="middle" class="t">2000</text>
<text transform="translate(471.05,240.00) scale(1,1.2)" y="3.44" text-anchor="middle" class="t">2005</text>
<text transform="translate(551.70,240.00) scale(1,1.2)" y="3.44" text-anchor="middle" class="t">2010</text>
<text x="422.4" y="178.8" class="l">AMIP Models</text>
<text transform="translate(9.4,114.8) rotate(-90) scale(1,1.1)" text-anchor="middle" class="yl">TLT Anomaly (K)</text>
<path d="M43,14H63.8" stroke="#000" stroke-width="2"/>
<path d="M43,26.1H63.8" stroke="#ff3020" stroke-width="1.25"/>
<text x="66.3" y="17.8" class="g">Models</text>
<text x="66.3" y="29.6" class="g">MSU</text>
<rect x="35.75" y="268.4" width="515.65" height="228.20000000000005" fill="#fffff4"/>
<polygon points="51.1,346.2 52.0,348.5 52.9,353.1 53.8,349.6 54.8,346.2 55.7,343.9 56.6,342.7 57.5,345.0 58.5,343.9 59.4,346.2 60.3,353.1 61.2,360.0 62.2,366.9 63.1,364.6 64.0,360.0 64.9,353.1 65.8,348.5 66.8,339.2 67.7,334.6 68.6,328.9 69.5,336.9 70.5,348.5 71.4,339.2 72.3,346.2 73.2,357.7 74.2,362.3 75.1,366.9 76.0,364.6 76.9,362.3 77.8,369.2 78.8,371.5 79.7,369.2 80.6,362.3 81.5,353.1 82.5,345.0 83.4,348.5 84.3,353.1 85.2,348.5 86.2,343.9 87.1,341.5 87.5,336.9 88.5,343.9 89.4,346.2 90.3,355.4 91.2,341.5 92.2,338.1 93.1,341.5 94.0,348.5 94.9,364.6 95.9,360.0 96.8,353.1 97.7,346.2 98.6,339.2 99.4,327.7 100.3,316.2 101.2,310.4 102.2,320.8 103.1,334.6 104.0,346.2 104.9,353.1 105.8,355.4 106.8,357.7 107.7,362.3 108.6,371.5 109.5,380.8 110.5,384.2 111.4,383.1 112.3,381.9 113.2,378.5 114.2,371.5 115.1,362.3 116.0,348.5 116.9,346.2 117.8,350.8 118.8,355.4 119.7,362.3 120.6,371.5 121.5,376.2 122.5,378.5 123.4,380.8 124.3,378.5 125.2,376.2 126.2,376.2 127.1,377.3 128.0,378.5 128.9,378.5 129.8,378.5 130.8,366.9 131.7,353.1 132.6,343.9 133.5,336.9 134.5,334.6 135.4,335.8 136.3,333.5 137.2,331.2 138.2,339.2 139.1,348.5 140.0,357.7 140.9,360.0 141.8,364.6 142.8,371.5 143.7,373.9 144.6,372.7 145.5,371.5 146.5,366.9 147.4,362.3 148.3,360.0 149.2,354.2 150.2,356.5 151.1,360.0 152.0,361.2 152.9,358.9 153.9,360.0 154.8,362.3 155.7,364.6 156.7,363.5 157.4,364.6 158.3,366.9 159.2,369.2 160.2,371.5 161.1,369.2 162.0,366.9 162.9,364.6 163.8,362.3 164.8,357.7 165.7,355.4 166.6,356.5 167.5,355.4 168.5,354.2 169.4,353.1 170.3,355.4 171.2,357.7 172.2,362.3 173.1,366.9 174.0,369.2 174.9,369.2 175.8,371.5 176.8,370.4 177.7,371.5 178.6,366.9 179.5,357.7 180.5,350.8 181.4,346.2 182.3,342.7 183.2,339.2 184.2,338.1 185.1,343.9 186.0,348.5 186.9,350.8 187.8,346.2 188.8,339.2 189.7,334.6 190.6,336.9 191.5,339.2 192.5,334.6 193.4,325.4 194.3,316.2 195.2,309.2 196.2,304.6 197.1,301.2 198.0,300.0 198.9,304.6 199.8,313.8 200.8,320.8 201.7,316.2 202.6,311.5 203.5,308.1 204.0,313.8 204.5,325.4 205.4,339.2 206.3,350.8 207.2,357.7 208.2,364.6 209.1,360.0 210.0,346.2 210.9,341.5 211.9,340.4 212.8,339.2 213.7,341.5 214.6,339.2 215.4,339.2 216.3,338.1 217.2,339.2 218.2,336.9 219.1,341.5 220.0,346.2 220.9,350.8 221.8,353.1 222.8,356.5 223.7,353.1 224.6,349.6 225.5,348.5 226.5,346.2 227.4,343.9 228.3,336.9 229.2,334.6 230.2,336.9 231.1,332.3 232.0,327.7 232.9,325.4 233.8,327.7 234.8,334.6 235.7,339.2 236.6,341.5 237.5,343.9 238.5,341.5 239.4,339.2 240.3,343.9 241.2,341.5 242.2,343.9 243.1,339.2 244.0,332.3 244.9,325.4 245.8,319.6 246.8,318.5 247.7,325.4 248.6,336.9 249.5,343.9 250.5,346.2 251.4,348.5 252.3,355.4 253.2,360.0 254.2,362.3 255.1,366.9 256.0,369.2 256.9,373.9 257.8,378.5 258.8,380.8 259.7,378.5 260.6,366.9 261.5,357.7 262.5,346.2 263.4,336.9 263.8,332.3 264.3,334.6 265.2,341.5 266.2,346.2 267.1,339.2 268.0,336.9 268.9,343.9 269.9,357.7 270.8,369.2 271.7,378.5 272.6,371.5 273.4,371.5 274.3,366.9 275.2,373.9 276.2,376.2 277.1,362.3 278.0,353.1 278.9,345.0 279.8,346.2 280.8,350.8 281.7,357.7 282.6,364.6 283.5,371.5 284.5,373.9 285.4,376.2 286.3,373.9 287.2,376.2 288.2,375.0 289.1,371.5 290.0,369.2 290.9,366.9 291.8,364.6 292.8,366.9 293.7,364.6 294.6,362.3 295.5,360.0 296.5,355.4 297.4,350.8 298.3,357.7 299.2,362.3 300.2,355.4 301.1,350.8 302.0,353.1 302.9,360.0 303.8,362.3 304.8,357.7 305.7,353.1 306.6,357.7 307.5,362.3 308.5,357.7 309.4,353.1 310.3,350.8 311.2,353.1 312.2,357.7 313.1,360.0 314.0,362.3 314.9,357.7 315.8,353.1 316.8,349.6 317.7,346.2 318.6,350.8 319.5,355.4 320.5,357.7 321.4,355.4 322.3,350.8 323.2,343.9 324.2,339.2 325.1,332.3 326.0,325.4 326.9,318.5 327.9,313.8 328.8,300.0 329.7,290.8 330.6,288.5 331.4,288.5 332.3,293.1 333.2,302.3 334.2,311.5 335.1,320.8 336.0,327.7 336.9,332.3 337.8,333.5 338.8,332.3 339.7,334.6 340.6,330.0 341.5,323.1 342.5,318.5 343.4,323.1 344.3,330.0 345.2,327.7 346.2,330.0 347.1,332.3 348.0,336.9 348.9,341.5 349.8,346.2 350.8,348.5 351.7,346.2 352.6,343.9 353.5,341.5 354.5,339.2 355.4,336.9 356.3,339.2 357.2,339.2 358.2,341.5 359.1,340.4 360.0,341.5 360.9,339.2 361.8,340.4 362.8,341.5 363.7,341.5 364.6,339.2 365.5,342.7 366.5,345.0 367.4,348.5 368.3,350.8 369.2,353.1 370.2,355.4 371.1,348.5 372.0,339.2 372.9,334.6 373.8,336.9 374.8,339.2 375.7,341.5 376.6,343.9 377.5,343.9 378.5,341.5 379.4,339.2 380.3,343.9 381.2,345.0 382.2,343.9 383.1,345.0 384.0,341.5 384.9,336.9 385.9,332.3 386.8,331.2 387.7,327.7 388.6,323.1 389.4,313.8 390.3,304.6 391.2,295.4 392.2,304.6 393.1,316.2 394.0,325.4 394.9,320.8 395.8,319.6 396.8,323.1 397.7,327.7 398.6,325.4 399.5,319.6 400.5,327.7 401.4,330.0 402.3,325.4 403.2,320.8 404.2,317.3 405.1,318.5 406.0,319.6 406.9,318.5 407.8,316.2 408.8,312.7 409.7,309.2 410.6,306.9 411.5,311.5 412.5,316.2 413.4,318.5 414.3,320.8 415.2,325.4 416.2,327.7 417.1,332.3 418.0,333.5 418.9,327.7 419.8,320.8 420.8,311.5 421.7,300.0 422.6,288.5 423.5,279.2 424.5,274.6 425.4,273.5 426.3,275.8 427.2,279.2 428.2,276.9 429.1,274.6 430.0,279.2 430.9,293.1 431.8,309.2 432.8,318.5 433.7,323.1 434.6,327.7 435.5,330.0 436.5,325.4 437.4,320.8 438.3,316.2 439.2,311.5 440.2,306.9 441.1,302.3 442.0,304.6 442.9,309.2 443.9,313.8 444.8,318.5 445.7,323.1 446.6,325.4 447.4,330.0 448.3,327.7 449.2,325.4 450.2,320.8 451.1,318.5 452.0,316.2 452.9,313.8 453.8,309.2 454.8,306.9 455.7,311.5 456.6,316.2 457.5,313.8 458.5,309.2 459.4,306.9 460.3,311.5 461.2,316.2 462.2,318.5 463.1,321.9 464.0,323.1 464.9,321.9 465.8,319.6 466.8,316.2 467.7,313.8 468.6,311.5 469.5,306.9 470.5,300.0 471.4,295.4 472.3,293.1 473.2,300.0 474.2,306.9 475.1,311.5 476.0,309.2 476.9,306.9 477.8,310.4 478.8,311.5 479.7,309.2 480.6,313.8 481.5,316.2 482.5,318.5 483.4,320.8 484.3,318.5 485.2,313.8 485.9,312.7 486.0,385.0 485.4,386.0 484.5,384.2 483.6,382.5 482.8,381.6 481.9,382.5 481.0,382.5 480.2,381.6 479.3,382.5 478.4,383.4 477.6,384.2 476.7,386.0 475.9,392.9 475.0,405.0 474.1,417.1 473.3,424.0 472.4,420.6 471.5,415.4 470.7,413.6 469.8,415.4 468.9,411.9 468.1,399.8 467.2,391.1 466.3,385.1 465.5,382.5 464.6,384.2 463.7,386.0 462.9,387.7 462.0,388.5 461.1,389.4 460.3,390.3 459.4,392.0 458.6,392.9 457.7,395.5 456.8,396.3 456.0,394.6 455.1,393.7 454.2,394.6 453.4,392.9 452.5,392.9 451.6,391.1 450.8,390.3 449.9,389.4 449.0,391.1 448.2,394.6 447.3,399.8 446.4,403.3 445.6,405.0 444.7,404.1 443.8,405.0 443.0,407.6 442.1,405.0 441.3,403.3 440.4,401.5 439.5,398.1 438.7,394.6 437.8,392.9 436.9,387.7 436.1,386.0 435.2,389.4 434.3,391.1 433.5,392.9 432.6,394.6 431.7,392.9 430.9,387.7 430.0,386.0 429.1,391.1 428.3,394.6 427.4,398.1 426.5,401.5 425.7,405.0 424.8,411.9 424.0,408.4 423.1,401.5 422.2,394.6 421.4,392.9 420.5,396.3 419.6,394.6 418.8,383.4 417.9,384.2 417.0,386.0 416.2,388.5 415.3,389.4 414.4,390.3 413.6,391.1 412.7,392.0 411.8,396.3 411.0,403.3 410.1,408.4 409.2,411.9 408.4,415.4 407.5,418.8 406.7,411.9 405.8,405.0 404.9,399.8 404.1,394.6 403.2,392.9 402.3,392.0 401.5,393.7 400.6,394.6 399.7,398.1 398.9,403.3 398.0,406.7 397.4,399.4 396.5,398.5 395.6,399.4 394.8,401.1 393.9,403.7 393.0,404.6 392.2,405.5 391.3,404.6 390.4,402.9 389.6,402.0 388.7,400.3 387.9,399.4 387.0,400.3 386.1,401.1 385.3,400.3 384.4,399.4 383.5,400.3 382.7,404.6 381.8,411.5 380.9,418.4 380.1,421.9 379.2,425.4 378.3,427.1 377.5,423.6 376.6,421.9 375.7,425.4 374.9,428.8 374.0,429.7 373.1,425.4 372.3,418.4 371.4,409.8 370.6,403.7 369.7,408.1 368.8,413.3 368.0,410.7 367.1,408.1 366.2,411.5 365.4,415.0 364.5,413.3 363.6,408.1 362.8,404.6 361.9,408.1 361.0,411.5 360.2,408.1 359.3,406.3 358.4,402.9 357.6,401.1 356.7,398.5 355.8,396.0 355.0,394.2 354.1,392.5 353.3,393.4 352.4,394.2 351.5,396.0 350.7,396.8 349.8,396.0 348.9,397.7 348.1,396.8 347.2,397.7 346.3,399.4 345.5,400.3 344.6,401.1 343.7,402.9 342.9,406.3 342.0,411.5 341.1,416.7 340.3,414.1 339.4,411.5 338.5,409.8 337.7,408.1 336.8,408.9 336.0,410.7 335.1,408.9 334.2,407.2 333.4,408.9 332.5,409.8 331.6,408.1 330.8,407.2 329.9,406.3 329.0,408.9 328.2,413.3 327.3,418.4 326.4,416.7 325.6,414.1 324.7,415.0 323.8,415.8 323.0,417.6 322.1,416.7 321.2,415.0 320.4,415.8 319.5,418.4 318.7,421.9 317.8,427.1 316.9,430.6 316.1,428.8 315.2,425.4 314.3,420.2 313.5,416.7 312.6,425.4 311.7,435.7 310.9,440.9 310.0,439.2 309.4,438.8 308.5,435.4 307.6,433.6 306.8,431.9 305.9,430.2 305.0,426.7 304.2,421.5 303.3,419.8 302.4,421.5 301.6,423.3 300.7,425.0 299.9,428.4 299.0,431.9 298.1,437.1 297.3,444.0 296.4,448.3 295.5,445.7 294.7,440.6 293.8,444.0 292.9,448.3 292.1,445.7 291.2,442.3 290.3,440.6 289.5,442.3 288.6,444.0 287.7,442.3 286.9,438.8 286.0,435.4 285.1,437.1 284.3,438.8 283.4,439.7 282.6,437.1 281.7,433.6 280.8,435.4 280.0,437.1 279.1,436.2 278.2,437.1 277.4,440.6 276.5,444.0 275.6,442.3 274.8,439.7 273.9,437.1 273.0,438.8 272.2,435.4 271.3,432.8 270.4,433.6 269.6,435.4 268.7,442.3 267.8,449.2 267.0,456.1 266.1,459.6 265.3,460.4 264.4,459.6 263.5,457.9 262.7,456.1 261.8,452.7 260.9,450.9 260.1,449.2 259.2,445.7 258.3,440.6 257.5,437.1 256.6,430.2 255.7,421.5 254.9,414.6 254.0,412.0 253.1,411.1 252.3,409.4 251.4,410.3 250.5,412.0 249.7,411.1 248.8,409.4 248.0,412.9 247.1,414.6 246.2,409.4 245.4,406.0 244.5,404.2 243.6,406.0 242.8,402.5 241.9,399.0 241.0,397.3 240.2,399.0 239.3,402.5 238.4,407.7 237.6,412.9 236.7,418.1 235.8,423.3 235.0,426.7 234.1,425.0 233.2,423.3 232.4,421.5 231.5,418.9 230.7,418.1 229.8,421.5 228.9,423.3 228.1,419.8 227.2,414.6 226.3,409.4 225.5,406.0 224.6,409.4 223.7,414.6 222.9,421.5 222.0,426.7 221.4,433.3 220.5,438.4 219.6,441.0 218.8,440.2 217.9,439.3 217.0,441.9 216.2,447.1 215.3,454.0 214.4,452.3 213.6,445.4 212.7,440.2 211.9,436.7 211.0,435.0 210.1,431.5 209.3,426.3 208.4,423.7 207.5,424.6 206.7,428.1 205.8,431.5 204.9,421.1 204.1,417.7 203.2,416.8 202.3,415.1 201.5,412.5 200.6,411.6 199.7,412.5 198.9,410.8 198.0,407.3 197.1,405.6 196.3,406.4 195.4,410.8 194.6,417.7 193.7,422.0 192.8,421.1 192.0,418.5 191.1,416.8 190.2,418.5 189.4,421.1 188.5,424.6 187.6,428.9 186.8,431.5 185.9,427.2 185.0,424.6 184.2,422.0 183.3,421.1 182.4,422.9 181.6,428.1 180.7,432.4 179.8,435.0 179.0,435.0 178.1,434.1 177.3,434.1 176.4,433.3 175.5,431.5 174.7,431.5 173.8,433.3 172.9,436.7 172.1,440.2 171.2,439.3 170.3,440.2 169.5,438.4 168.6,437.6 167.7,436.7 166.9,435.0 166.0,431.5 165.1,428.9 164.3,431.5 163.4,433.3 162.5,436.7 161.7,440.2 160.8,443.6 160.0,442.8 159.1,441.9 158.2,441.9 157.4,445.4 156.5,448.8 155.6,452.3 154.8,454.0 153.9,455.7 153.0,459.2 152.2,462.7 151.3,464.4 150.4,469.6 149.6,474.8 148.7,469.6 147.8,460.9 147.0,452.3 146.1,443.6 145.2,435.0 144.4,428.1 143.5,424.6 142.7,422.9 141.8,423.7 140.9,424.6 140.1,429.8 139.2,436.7 138.3,441.9 137.5,445.4 136.6,446.2 135.7,445.4 134.9,441.9 134.0,440.2 133.4,439.8 132.5,438.1 131.6,436.3 130.8,434.6 129.9,432.9 129.0,431.1 128.2,434.6 127.3,441.5 126.4,448.4 125.6,455.4 124.7,464.0 123.9,472.7 123.0,479.6 122.1,481.3 121.3,474.4 120.4,465.7 119.5,458.8 118.7,451.9 117.8,448.4 116.9,447.6 116.1,446.7 115.2,445.0 114.3,444.1 113.5,445.0 112.6,443.3 111.7,441.5 110.9,438.9 110.0,438.1 109.1,436.3 108.3,438.1 107.4,438.9 106.6,438.1 105.7,436.3 104.8,432.9 104.0,429.4 103.1,427.7 102.2,426.0 101.4,424.2 100.5,420.8 99.6,417.3 98.8,414.7 97.9,416.4 97.0,417.3 96.2,419.0 95.3,419.9 94.4,420.8 93.6,424.2 92.7,434.6 91.8,443.3 91.0,448.4 90.1,445.0 89.3,441.5 88.4,439.8 87.5,441.5 86.7,438.1 85.8,439.8 84.9,437.2 84.1,434.6 83.2,432.0 82.3,432.9 81.5,429.4 80.6,426.0 79.7,422.5 78.9,420.8 78.0,419.9 77.1,419.0 76.3,419.9 75.4,422.5 74.5,427.7 73.7,436.3 72.8,440.7 72.0,436.3 71.1,431.1 70.2,427.7 69.4,426.0 68.5,426.8 67.6,426.0 66.8,424.2 65.9,422.5 65.0,420.8 64.2,419.9 63.3,420.8 62.4,419.0 61.6,417.3 60.7,418.2 59.8,422.5 59.0,431.1 58.1,442.4 57.2,439.8 56.4,438.1 55.5,436.3 54.7,439.8 53.8,443.3 52.9,441.5 51.2,438.1" fill="#999" stroke="#999" stroke-width="0.6"/>
<polyline points="51.5,400.0 52.5,398.8 53.5,400.0 54.5,401.2 55.5,400.0 56.5,399.5 57.5,400.0 58.5,399.5 59.5,398.8 60.5,398.2 61.5,397.5 62.5,397.0 63.5,396.5 64.5,396.2 65.5,395.8 66.5,395.5 67.5,395.0 68.5,394.5 69.5,394.5 70.5,395.0 71.5,395.0 72.5,395.5 73.5,395.0 74.5,395.5 75.5,396.0 76.5,395.8 77.5,395.0 78.5,394.5 79.5,395.5 80.5,396.2 81.5,396.2 82.5,395.0 83.5,394.5 84.5,393.8 85.5,393.2 86.5,392.5 87.5,393.0 88.5,392.5 89.5,392.0 90.5,392.5 91.5,392.0 92.5,392.5 93.5,393.2 94.5,392.5 95.5,392.0 96.5,392.5 97.5,393.0 98.0,390.0 99.2,390.5 100.5,391.2 101.8,392.0 103.0,392.5 104.2,393.8 105.5,395.0 106.8,396.2 108.0,397.5 109.2,401.2 110.5,405.0 111.8,407.5 113.0,408.8 114.2,409.5 115.5,410.0 116.8,410.0 118.0,410.5 119.2,411.2 120.5,412.5 121.8,413.8 123.0,412.5 124.2,411.2 125.5,410.0 126.8,408.8 128.0,407.5 129.2,406.2 130.5,404.5 131.8,403.8 133.0,403.0 134.2,402.5 135.5,402.5 136.8,403.0 138.0,402.5 139.2,402.0 140.5,401.5 141.8,401.2 143.0,401.2 144.2,401.0 145.5,400.8 146.8,400.8 148.0,401.0 149.2,400.8 150.5,401.0 151.8,401.5 153.0,401.8 154.2,402.0 155.5,402.5 156.0,402.0 157.2,401.5 158.5,401.2 159.8,400.5 161.0,400.0 162.2,399.5 163.5,399.2 164.8,399.5 166.0,399.0 167.2,398.8 168.5,398.5 169.8,398.0 171.0,397.5 172.2,397.5 173.5,397.0 174.8,396.2 176.0,395.0 177.2,394.0 178.5,393.2 179.8,392.0 181.0,390.5 182.2,390.0 183.5,389.5 184.8,389.2 186.0,388.8 187.2,388.0 188.5,387.0 189.8,386.2 191.0,385.8 192.2,385.5 193.5,384.5 194.8,383.0 196.0,381.0 197.2,378.8 198.5,377.5 199.8,378.8 201.0,380.5 202.2,382.5 203.5,383.8 204.8,385.0 206.0,386.2 207.2,387.0 208.5,387.5 209.8,387.0 211.0,386.5 212.2,386.0 213.5,385.5 214.0,385.0 215.2,384.5 216.5,384.0 217.8,383.8 219.0,383.2 220.2,383.0 221.5,382.5 222.8,382.0 224.0,381.2 225.2,381.0 226.5,380.5 227.8,380.0 229.0,379.5 230.2,379.0 231.5,378.8 232.8,378.2 234.0,377.5 235.2,377.0 236.5,377.0 237.8,377.5 239.0,376.5 240.2,376.0 241.5,375.8 242.8,375.5 244.0,376.0 245.2,376.2 246.5,376.5 247.8,377.0 249.0,378.0 250.2,380.0 251.5,382.5 252.8,387.5 254.0,392.5 255.2,397.5 256.5,402.5 257.8,406.2 259.0,407.5 260.2,408.8 261.5,410.0 262.8,411.2 264.0,412.5 265.2,414.5 266.5,413.8 267.8,411.2 269.0,410.0 270.2,408.8 271.5,408.2 272.0,407.5 273.2,407.0 274.5,406.2 275.8,405.0 277.0,403.8 278.2,402.5 279.5,402.0 280.8,401.2 282.0,400.8 283.2,400.5 284.5,400.0 285.8,400.0 287.0,399.5 288.2,400.0 289.5,399.5 290.8,399.2 292.0,398.8 293.2,398.8 294.5,398.0 295.8,397.5 297.0,397.0 298.2,396.2 299.5,395.8 300.8,395.0 302.0,394.5 303.2,393.8 304.5,392.5 305.8,392.0 307.0,392.0 308.2,391.5 309.5,391.2 310.8,390.8 312.0,390.0 313.2,389.5 314.5,388.8 315.8,388.0 317.0,387.5 318.2,386.2 319.5,385.0 320.8,384.5 322.0,383.8 323.2,382.5 324.5,382.0 325.8,381.5 327.0,381.2 328.2,380.5 329.5,379.5 330.0,378.8 331.2,378.5 332.5,378.0 333.8,377.5 335.0,377.0 336.2,376.5 337.5,376.5 338.8,376.0 340.0,375.5 341.2,375.0 342.5,374.5 343.8,374.2 345.0,373.8 346.2,373.8 347.5,373.5 348.8,373.0 350.0,372.5 351.2,372.5 352.5,372.0 353.8,371.8 355.0,371.5 356.2,371.0 357.5,371.0 358.8,370.8 360.0,371.2 361.2,371.0 362.5,371.5 363.8,371.0 365.0,371.2 366.2,371.5 367.5,371.2 368.8,371.5 370.0,371.8 371.2,371.5 372.5,371.2 373.8,371.5 375.0,371.2 376.2,371.0 377.5,371.2 378.8,371.0 380.0,371.5 381.2,371.2 382.5,370.5 383.8,369.5 385.0,368.8 386.2,367.5 387.5,366.2 388.0,366.9 390.3,364.6 392.6,364.2 394.9,364.6 397.2,365.1 399.5,363.5 401.8,362.3 404.2,362.3 406.5,361.9 408.8,360.0 411.1,357.2 413.4,357.7 415.7,358.2 418.0,358.9 420.3,357.7 422.6,358.9 424.9,357.2 427.2,357.7 429.5,358.2 431.8,358.9 434.2,358.2 436.5,357.7 438.8,357.2 441.1,357.7 443.4,357.2 445.7,357.2 447.4,356.3 449.2,355.9 451.5,355.4 453.8,356.5 456.2,355.9 458.5,354.9 460.8,354.2 463.1,353.5 465.4,353.1 467.7,352.6 470.0,351.2 472.3,350.3 474.6,351.2 476.9,351.2 479.2,350.8 481.5,351.2 483.8,350.3 485.9,350.3" fill="none" stroke="#000" stroke-width="1.4" stroke-linejoin="round"/>
<polyline points="51.4,396.4 52.4,385.2 53.5,388.6 54.5,392.1 55.5,390.4 56.6,393.0 57.6,388.6 58.7,383.4 59.7,384.3 60.7,380.9 61.8,376.5 62.8,372.2 63.8,370.5 64.9,377.4 65.6,386.0 66.6,380.9 67.6,375.7 68.7,377.4 69.7,375.7 70.8,372.2 71.8,370.5 72.8,367.0 73.9,364.4 74.9,368.7 76.0,377.4 77.0,385.2 78.0,379.1 79.1,377.4 79.8,381.7 80.4,389.5 81.1,397.3 82.2,394.7 83.2,396.4 84.3,397.3 85.3,393.8 86.3,391.2 87.4,387.8 88.4,389.5 89.4,392.1 90.5,393.8 91.5,397.3 92.6,399.0 93.6,392.1 94.6,386.9 95.7,385.2 96.7,386.0 98.0,388.6 99.4,390.9 100.8,395.5 102.1,397.8 103.5,394.4 104.9,388.6 106.3,384.0 107.7,393.2 109.1,395.5 110.4,400.2 111.8,404.8 113.2,390.9 114.6,372.5 116.0,356.4 116.9,342.5 118.3,342.5 119.2,344.9 120.1,354.1 121.0,361.0 122.0,358.7 122.9,356.4 123.8,361.0 124.7,367.9 125.6,377.1 126.6,381.7 127.5,390.9 128.4,399.0 129.3,402.5 130.3,400.2 131.2,407.1 132.1,416.3 133.0,411.7 133.9,397.8 134.9,395.5 135.8,402.5 136.7,407.1 137.6,411.7 138.6,416.3 139.5,414.0 140.4,407.1 141.3,409.4 142.2,414.0 143.2,417.4 144.1,414.0 145.0,409.4 146.0,413.4 146.9,411.2 147.8,406.8 148.7,403.4 149.5,409.0 150.4,406.8 151.3,413.4 152.2,422.2 153.1,417.8 154.0,415.6 154.8,420.0 155.7,428.9 156.6,433.3 157.5,420.0 158.4,413.4 159.3,409.0 160.2,406.8 161.0,409.0 161.9,405.7 162.8,402.3 163.7,397.9 164.6,406.8 165.5,412.3 166.4,409.0 167.2,404.5 168.1,400.1 169.0,397.9 169.9,400.1 170.8,402.3 171.7,400.1 172.5,395.7 173.4,397.9 174.3,396.8 175.2,394.6 176.1,391.3 177.0,389.1 177.9,384.6 178.7,382.4 179.6,378.0 180.5,373.6 181.4,371.4 182.3,372.5 183.2,366.9 184.1,364.7 184.9,369.1 185.8,378.0 186.7,364.7 187.6,353.7 188.5,349.2 189.4,353.7 190.2,355.9 191.1,358.1 192.0,351.4 192.9,347.0 194.0,347.6 194.9,343.2 195.8,341.0 196.7,349.8 197.5,354.2 198.4,352.0 199.3,358.7 200.2,367.5 201.1,374.1 202.0,380.8 202.8,387.4 203.7,389.6 204.6,384.1 205.5,383.0 206.4,381.9 207.3,383.0 208.2,389.6 209.0,396.3 209.9,405.1 210.8,418.4 211.7,431.7 212.6,427.2 213.5,422.8 214.4,433.9 215.2,441.6 216.1,431.7 217.0,422.8 217.9,416.2 218.8,409.5 219.7,405.1 220.5,402.9 221.4,400.7 222.3,398.5 223.2,394.1 224.1,391.8 225.0,389.6 225.9,391.8 226.7,396.3 227.6,402.9 228.5,398.5 229.4,402.9 230.3,406.2 231.2,396.3 232.1,391.8 232.9,387.4 233.8,383.0 234.7,380.8 235.6,385.2 236.5,387.4 237.4,391.8 238.2,387.4 239.1,383.0 240.0,378.6 240.9,376.4 242.0,372.6 242.8,371.8 243.6,375.0 244.5,370.9 245.3,369.3 246.1,370.1 246.9,372.6 247.7,375.0 248.5,379.1 249.4,377.5 250.2,369.3 251.0,364.4 251.8,358.7 252.6,364.4 253.4,372.6 254.3,379.1 255.1,376.7 255.9,380.7 256.7,392.2 257.5,405.3 258.3,408.5 259.2,398.7 260.0,390.6 260.8,392.2 261.6,387.3 262.4,380.7 263.2,374.2 264.1,375.8 264.9,375.0 265.7,379.1 266.5,377.5 267.3,382.4 268.1,388.9 269.0,395.5 269.8,402.0 270.6,403.6 271.4,402.0 272.2,398.7 273.0,397.1 273.9,402.0 274.7,408.5 275.5,405.3 276.3,404.4 277.1,406.9 277.9,410.2 278.8,415.1 279.6,410.2 280.4,402.0 281.2,395.5 282.0,388.9 282.8,380.7 283.7,377.5 284.5,379.1 285.3,384.0 286.1,388.9 286.9,392.2 287.8,385.7 288.6,379.1 289.4,372.6 290.2,367.7 291.0,363.6 292.0,367.5 292.5,367.5 293.3,375.7 294.1,382.2 294.9,388.7 295.7,392.8 296.5,390.4 297.4,387.1 298.2,388.7 299.0,387.9 299.8,387.1 300.6,388.7 301.4,385.5 302.3,382.2 303.1,378.9 303.9,382.2 304.7,388.7 305.5,393.6 306.3,383.8 307.2,374.0 308.0,367.5 308.8,372.4 309.6,375.7 310.4,380.6 311.2,380.6 312.1,375.7 312.9,370.7 313.7,374.0 314.5,370.7 315.3,364.2 316.1,360.1 317.0,365.8 317.8,362.6 318.6,360.9 319.4,364.2 320.2,369.1 321.0,375.7 321.9,382.2 322.7,388.7 323.5,394.4 324.3,396.9 325.1,398.5 325.9,393.6 326.8,385.5 327.6,382.2 328.4,385.5 329.2,388.7 330.0,388.7 330.8,385.5 331.7,382.2 332.5,380.6 333.3,377.3 334.1,378.9 334.9,382.2 335.8,379.7 336.6,378.9 337.4,382.2 338.2,385.5 339.0,388.7 340.0,399.1 341.0,396.5 342.1,401.7 343.1,404.3 344.1,409.4 345.2,404.3 346.2,388.7 347.3,373.2 348.3,362.8 349.3,352.4 350.4,349.8 351.4,355.0 352.4,352.4 353.5,344.7 354.5,339.5 355.5,326.5 356.6,312.3 357.6,300.6 358.7,290.3 359.2,285.6 360.2,294.9 360.7,298.8 362.0,298.8 363.1,309.7 363.8,331.7 364.9,342.1 365.9,347.3 366.9,349.8 368.0,355.0 369.0,360.2 370.1,368.0 371.1,375.8 372.1,383.5 373.2,391.3 374.2,396.5 375.2,395.2 376.0,396.9 376.8,395.3 377.6,398.5 378.5,401.8 379.3,403.4 380.1,401.8 380.9,400.2 381.7,398.5 382.5,398.5 383.4,399.3 384.2,398.5 385.0,398.5 385.8,400.2 386.6,400.2 387.4,401.8 388.3,400.2 389.1,401.8 389.9,403.4 390.7,405.1 391.5,408.3 392.3,409.1 393.2,405.1 394.0,398.5 394.8,393.6 395.6,392.0 396.4,396.9 397.2,393.6 398.1,390.4 398.9,387.1 399.7,385.5 400.5,382.2 401.3,382.2 402.1,378.9 403.0,375.7 403.8,374.0 404.6,377.3 405.4,385.5 406.2,390.4 407.0,392.0 407.9,388.7 408.7,395.3 409.5,387.1 410.3,378.9 411.1,377.3 411.9,382.2 412.8,388.7 413.6,392.0 414.4,382.2 415.2,372.4 416.0,364.2 416.8,367.5 417.7,372.4 418.5,367.5 419.3,369.1 420.1,367.5 420.9,365.8 421.8,369.1 422.6,374.0 423.4,370.7 424.0,368.9 424.8,370.6 425.6,372.2 426.5,367.3 427.3,360.7 428.1,359.1 428.9,362.4 429.7,355.8 430.5,350.1 431.4,357.5 432.2,364.0 433.0,365.7 433.8,365.7 434.6,364.0 435.4,360.7 436.3,354.2 437.1,349.3 437.9,348.5 438.7,347.7 439.5,348.5 440.3,352.6 441.2,360.7 442.0,364.0 442.8,365.7 443.6,368.9 444.4,373.8 445.2,381.2 446.1,373.8 446.9,367.3 447.7,368.9 448.5,369.7 449.3,364.0 450.1,357.5 451.0,359.9 451.8,359.1 452.6,360.7 453.4,359.1 454.2,360.7 455.0,362.4 455.9,364.0 456.7,365.7 457.5,368.9 458.3,372.2 459.1,373.8 459.9,377.1 460.8,382.0 461.6,388.5 462.4,391.8 463.2,385.3 464.0,375.5 464.8,378.7 465.7,380.4 466.5,373.8 467.3,365.7 468.1,362.4 468.9,360.7 469.8,359.1 470.6,352.6 471.4,339.5 472.0,337.6 473.1,344.0 474.1,350.3 475.2,367.3 476.2,360.9 477.3,358.8 478.4,354.6 479.4,360.9 480.5,356.7 481.5,365.2 482.6,371.5 483.7,369.4 484.7,371.5 485.8,375.7" fill="none" stroke="#ff3020" stroke-width="1.25" stroke-linejoin="round"/>
<rect x="35.75" y="268.4" width="515.65" height="228.20000000000005" fill="none" stroke="#333" stroke-width="1"/>
<path d="M67.50,496.6v-5M67.50,268.4v5M148.15,496.6v-5M148.15,268.4v5M228.80,496.6v-5M228.80,268.4v5M309.45,496.6v-5M309.45,268.4v5M390.10,496.6v-5M390.10,268.4v5M470.75,496.6v-5M470.75,268.4v5M551.40,496.6v-5M551.40,268.4v5M35.75,268.40h5M551.4,268.40h-5M35.75,306.43h5M551.4,306.43h-5M35.75,344.47h5M551.4,344.47h-5M35.75,382.50h5M551.4,382.50h-5M35.75,420.53h5M551.4,420.53h-5M35.75,458.57h5M551.4,458.57h-5M35.75,496.60h5M551.4,496.60h-5" stroke="#333" stroke-width="1" fill="none"/>
<text transform="translate(33.6,268.50) scale(1,1.2)" y="3.44" text-anchor="end" class="t">1.5</text>
<text transform="translate(33.6,306.53) scale(1,1.2)" y="3.44" text-anchor="end" class="t">1</text>
<text transform="translate(33.6,344.57) scale(1,1.2)" y="3.44" text-anchor="end" class="t">0.5</text>
<text transform="translate(33.6,382.60) scale(1,1.2)" y="3.44" text-anchor="end" class="t">0</text>
<text transform="translate(33.6,420.63) scale(1,1.2)" y="3.44" text-anchor="end" class="t">−0.5</text>
<text transform="translate(33.6,458.67) scale(1,1.2)" y="3.44" text-anchor="end" class="t">−1</text>
<text transform="translate(33.6,496.70) scale(1,1.2)" y="3.44" text-anchor="end" class="t">−1.5</text>
<text transform="translate(67.80,504.60) scale(1,1.2)" y="3.44" text-anchor="middle" class="t">1980</text>
<text transform="translate(148.45,504.60) scale(1,1.2)" y="3.44" text-anchor="middle" class="t">1985</text>
<text transform="translate(229.10,504.60) scale(1,1.2)" y="3.44" text-anchor="middle" class="t">1990</text>
<text transform="translate(309.75,504.60) scale(1,1.2)" y="3.44" text-anchor="middle" class="t">1995</text>
<text transform="translate(390.40,504.60) scale(1,1.2)" y="3.44" text-anchor="middle" class="t">2000</text>
<text transform="translate(471.05,504.60) scale(1,1.2)" y="3.44" text-anchor="middle" class="t">2005</text>
<text transform="translate(551.70,504.60) scale(1,1.2)" y="3.44" text-anchor="middle" class="t">2010</text>
<text x="422.4" y="478.4" class="l">Coupled Models</text>
<text transform="translate(9.4,379.5) rotate(-90) scale(1,1.1)" text-anchor="middle" class="yl">TLT Anomaly (K)</text>
<text x="293.8" y="519.7" text-anchor="middle" class="y">Year</text>
</svg>
</body></html>
